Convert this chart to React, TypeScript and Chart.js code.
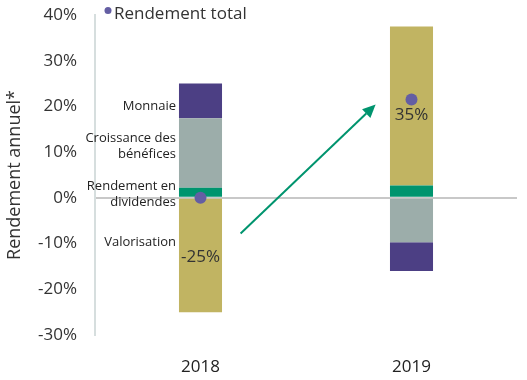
import React, { useEffect, useRef } from 'react';
import { Chart, registerables } from 'chart.js';
Chart.register(...registerables);

const categories = ['2018', '2019'];
const valorisation = [-25, 34.8];
const dividendes = [2.2, 2.7];
const croissance = [15.2, -9.7];
const monnaie = [7.6, -6.3];
const totalReturn = [0, 21.5];
const valorisationLabels = ['-25%', '35%'];
const yMin = -30;
const yMax = 40;
const yStep = 10;

const segmentLabels = [['Monnaie'], ['Croissance des', 'bénéfices'], ['Rendement en', 'dividendes'], ['Valorisation']];
const segmentLabelValues = [20, 11.3, 0.8, -9.7];
// arrow in data coords: [category index, value]
const arrowFrom = [0.19, -7.8];
const arrowTo = [0.83, 20.4];

const FONT = '"Open Sans", "Noto Sans", sans-serif';
const C_PURPLE = '#4c3f84';
const C_GREY = '#9cadaa';
const C_GREEN = '#00946e';
const C_OLIVE = '#c1b462';
const C_DOT = '#645ea3';
const C_TEXT = '#222222';

const overlay = {
  id: 'overlay',
  afterDatasetsDraw(chart: any) {
    const ctx = chart.ctx;
    const x = chart.scales.x;
    const y = chart.scales.y;
    const barMeta = chart.getDatasetMeta(1);
    const bar0 = barMeta.data[0] as any;
    const barLeft = bar0.x - bar0.width / 2;
    ctx.save();
    // segment labels for 2018
    ctx.font = `13px ${FONT}`;
    ctx.fillStyle = C_TEXT;
    ctx.textAlign = 'right';
    ctx.textBaseline = 'middle';
    segmentLabels.forEach((lines, i) => {
      const cy = y.getPixelForValue(segmentLabelValues[i]);
      const lh = 16;
      lines.forEach((ln, j) => {
        ctx.fillText(ln, barLeft - 3, cy + (j - (lines.length - 1) / 2) * lh);
      });
    });
    // valorisation value labels
    const valMeta = chart.getDatasetMeta(2);
    const dotMeta = chart.getDatasetMeta(0);
    ctx.font = `17px ${FONT}`;
    ctx.fillStyle = '#333333';
    ctx.textAlign = 'center';
    valMeta.data.forEach((el: any, i: number) => {
      const dot = dotMeta.data[i] as any;
      const cy = Math.max((el.y + el.base) / 2 + 1.5, dot.y + 16);
      ctx.fillText(valorisationLabels[i], el.x, cy);
    });
    // arrow
    const fx = x.getPixelForValue(arrowFrom[0]);
    const fy = y.getPixelForValue(arrowFrom[1]);
    const tx = x.getPixelForValue(arrowTo[0]);
    const ty = y.getPixelForValue(arrowTo[1]);
    const ang = Math.atan2(ty - fy, tx - fx);
    const headLen = 13;
    const headW = 6;
    const bx = tx - headLen * Math.cos(ang);
    const by = ty - headLen * Math.sin(ang);
    ctx.strokeStyle = C_GREEN;
    ctx.fillStyle = C_GREEN;
    ctx.lineWidth = 2;
    ctx.beginPath();
    ctx.moveTo(fx, fy);
    ctx.lineTo(bx, by);
    ctx.stroke();
    ctx.beginPath();
    ctx.moveTo(tx, ty);
    ctx.lineTo(bx + headW * Math.sin(ang), by - headW * Math.cos(ang));
    ctx.lineTo(bx - headW * Math.sin(ang), by + headW * Math.cos(ang));
    ctx.closePath();
    ctx.fill();
    // legend
    ctx.fillStyle = C_DOT;
    ctx.beginPath();
    ctx.arc(108, 10.5, 3.5, 0, Math.PI * 2);
    ctx.fill();
    ctx.fillStyle = '#333333';
    ctx.font = `17px ${FONT}`;
    ctx.textAlign = 'left';
    ctx.textBaseline = 'middle';
    ctx.fillText('Rendement total', 114, 14);
    ctx.restore();
  },
};

export default function App() {
  const ref = useRef<HTMLCanvasElement>(null);
  useEffect(() => {
    document.body.style.margin = '0';
    const chart = new Chart(ref.current!, {
      type: 'bar',
      data: {
        labels: categories,
        datasets: [
          { type: 'line', label: 'Rendement total', data: totalReturn, showLine: false, pointRadius: 6, pointHoverRadius: 6, pointBackgroundColor: C_DOT, pointBorderColor: C_DOT, pointBorderWidth: 0, stack: 'total', order: 0 } as any,
          { label: 'Rendement en dividendes', data: dividendes, backgroundColor: C_GREEN, stack: 'bars', order: 1 },
          { label: 'Valorisation', data: valorisation, backgroundColor: C_OLIVE, stack: 'bars', order: 1 },
          { label: 'Croissance des bénéfices', data: croissance, backgroundColor: C_GREY, stack: 'bars', order: 1 },
          { label: 'Monnaie', data: monnaie, backgroundColor: C_PURPLE, stack: 'bars', order: 1 },
        ],
      },
      options: {
        animation: false,
        responsive: false,
        maintainAspectRatio: false,
        layout: { padding: { top: 15, right: 10, left: 0, bottom: 0 } },
        datasets: { bar: { categoryPercentage: 1, barPercentage: 0.204 } } as any,
        plugins: { legend: { display: false }, tooltip: { enabled: false } },
        scales: {
          x: {
            stacked: true,
            grid: { display: false },
            border: { display: false },
            ticks: { font: { family: FONT, size: 17 }, color: '#222', padding: 14 },
            afterFit: (s: any) => { s.height = 45; s.paddingLeft = 0; s.paddingRight = 0; },
          },
          y: {
            stacked: true,
            min: yMin,
            max: yMax,
            ticks: {
              stepSize: yStep,
              font: { family: FONT, size: 17 },
              color: '#333',
              padding: 18,
              callback: (v: any) => `${v}%`,
            },
            grid: {
              drawTicks: false,
              color: (c: any) => (c.tick && c.tick.value === 0 ? '#c8c8c8' : 'rgba(0,0,0,0)'),
              lineWidth: 2,
            },
            border: { display: true, color: '#d6dede', width: 2 },
            title: { display: true, text: 'Rendement annuel*', font: { family: FONT, size: 18 }, color: '#333', padding: { top: 4, bottom: 0 } },
            afterFit: (s: any) => { s.width = 95; s.paddingTop = 0; s.paddingBottom = 0; },
          },
        },
      },
      plugins: [overlay],
    });
    return () => chart.destroy();
  }, []);
  return <canvas ref={ref} width={527} height={380} style={{ display: 'block' }} />;
}
